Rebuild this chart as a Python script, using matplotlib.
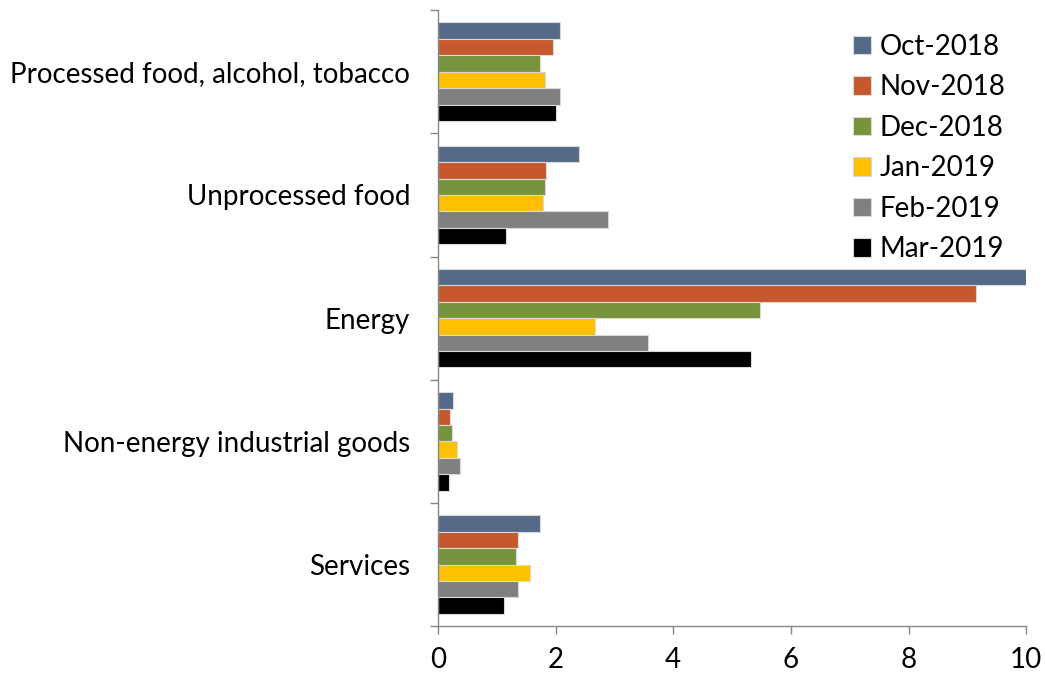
import numpy as np
import matplotlib
matplotlib.use("Agg")
import matplotlib.pyplot as plt
from matplotlib.patches import Patch

# ========== Data ==========
categories = ["Processed food, alcohol, tobacco", "Unprocessed food", "Energy",
              "Non-energy industrial goods", "Services"]
months = ["Oct-2018", "Nov-2018", "Dec-2018", "Jan-2019", "Feb-2019", "Mar-2019"]
colors = ["#556A88", "#C5582C", "#77933C", "#FFC000", "#808080", "#000000"]

oct_2018 = [2.08, 2.40, 10.10, 0.25, 1.73]
nov_2018 = [1.96, 1.83, 9.14, 0.21, 1.37]
dec_2018 = [1.73, 1.82, 5.47, 0.24, 1.33]
jan_2019 = [1.82, 1.79, 2.67, 0.32, 1.57]
feb_2019 = [2.07, 2.89, 3.57, 0.37, 1.36]
mar_2019 = [2.01, 1.16, 5.32, 0.19, 1.12]
series = [oct_2018, nov_2018, dec_2018, jan_2019, feb_2019, mar_2019]

x_ticks = [0, 2, 4, 6, 8, 10]

# ========== Plot ==========
plt.rcParams["font.family"] = ["Lato", "DejaVu Sans"]

fig = plt.figure(figsize=(10.45, 6.77), dpi=100)
ax = fig.add_axes([0.419, 0.075, 0.563, 0.91])

n_series = len(series)
bar_h = 0.8 / n_series
y_base = np.arange(len(categories))
for j, vals in enumerate(series):
    offset = (j - (n_series - 1) / 2) * bar_h
    ax.barh(y_base + offset, vals, height=bar_h, color=colors[j],
            edgecolor="#D9D9D9", linewidth=0.8, label=months[j])

ax.set_xlim(0, 10)
ax.set_ylim(len(categories) - 0.5, -0.5)

# category labels, tick marks on the category boundaries
ax.set_yticks(y_base)
ax.set_yticklabels(categories, fontsize=20)
ax.tick_params(axis="y", which="major", length=0, pad=20)
ax.set_yticks(np.arange(-0.5, len(categories)), minor=True)
ax.tick_params(axis="y", which="minor", length=6, width=1, color="#868686", direction="out")

ax.set_xticks(x_ticks)
ax.set_xticklabels([str(t) for t in x_ticks], fontsize=20)
ax.tick_params(axis="x", length=6, width=1, color="#868686", pad=9)

for side in ["top", "right"]:
    ax.spines[side].set_visible(False)
for side in ["left", "bottom"]:
    ax.spines[side].set_color("#868686")
    ax.spines[side].set_linewidth(1)

handles = [Patch(facecolor=c, edgecolor="#D9D9D9", linewidth=0.8) for c in colors]
fig.legend(handles, months, loc="upper right", bbox_to_anchor=(0.962, 0.95),
           frameon=False, fontsize=20, handlelength=0.65, handleheight=0.65,
           handletextpad=0.3, labelspacing=0.52, borderaxespad=0, borderpad=0)

fig.savefig("out.png", dpi=100)
